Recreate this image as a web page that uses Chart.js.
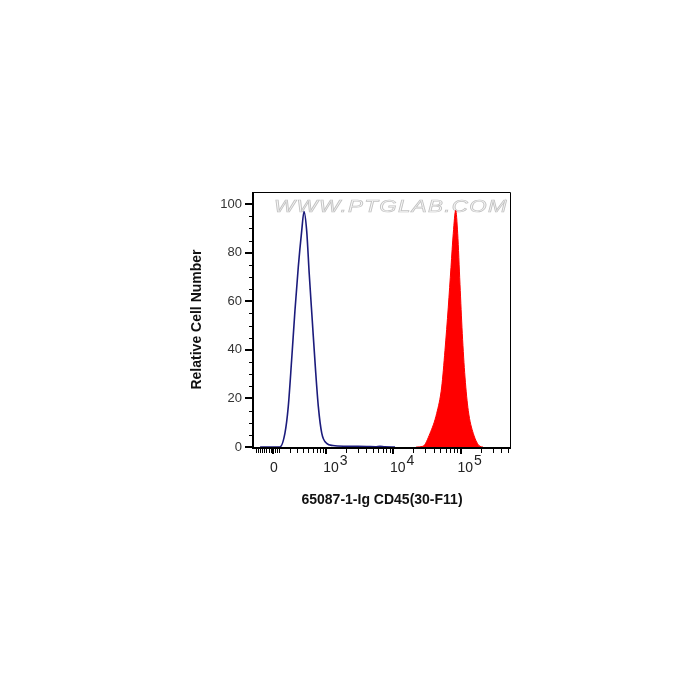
<!DOCTYPE html>
<html>
<head>
<meta charset="utf-8">
<script src="https://cdn.jsdelivr.net/npm/chart.js@4/dist/chart.umd.min.js"></script>
<style>
  html, body { margin: 0; padding: 0; background: #fff; }
</style>
</head>
<body>
<canvas id="chart" width="700" height="700"></canvas>
<script>
// fluorescence intensity (linear units) vs relative cell number
const isotypeX = [-150, 0, 80, 140, 182, 227, 274, 325, 382, 423, 474, 527, 594, 668, 749, 850, 1014, 1267, 2064, 4106, 5500, 6400, 7500, 10690]
const isotypeY = [0, 0, 0, 5.6, 16.5, 35.7, 56, 74, 89, 97, 89, 71, 52, 33, 16.5, 5.6, 1.5, 0.6, 0.3, 0.2, 0.1, 0.3, 0.1, 0]

const cd45X = [22000, 27770, 35270, 44300, 52580, 58800, 65830, 72190, 78060, 84720, 90680, 98130, 106100, 116400, 130200, 154400, 194000, 215000]
const cd45Y = [0, 0.3, 5.6, 13.8, 24.7, 39.8, 57.6, 74, 88, 97.4, 88, 67, 46.8, 28.8, 15, 5.6, 0.3, 0]

const xRange = [-230, 540000]
const xMajorTicks = [0, 1000, 10000, 100000]
const xTickBase = ['0', '10', '10', '10']
const xTickExp = ['', '3', '4', '5']
const yMajorTicks = [0, 20, 40, 60, 80, 100]
const yMax = 105

const X_TITLE = '65087-1-Ig CD45(30-F11)'
const Y_TITLE = 'Relative Cell Number'
const WATERMARK = 'WWW.PTGLAB.COM'

// biexponential-ish display transform (asinh), like the cytometry software axis
const W = 333
function disp (v) {
  return Math.asinh(v / W) / Math.LN10
}

// minor tick values
const xMinorTicks = []
for (let v = -200; v <= 75; v += 25) if (v !== 0) xMinorTicks.push(v)
for (let dec of [100, 1000, 10000]) {
  for (let k = 2; k <= 9; k++) xMinorTicks.push(k * dec)
}
for (let k = 2; k <= 5; k++) xMinorTicks.push(k * 100000)
const yMinorTicks = []
for (let v = 5; v < yMax; v += 5) if (v % 20 !== 0) yMinorTicks.push(v)

function toPoints (xs, ys) {
  return xs.map((x, i) => ({ x: disp(x), y: ys[i] }))
}

const FONT = 'Arial, "Liberation Sans", sans-serif'

const frame = {
  id: 'frame',
  beforeDatasetsDraw (chart) {
    const ctx = chart.ctx
    const a = chart.chartArea
    ctx.save()
    ctx.font = 'italic 17px ' + FONT
    if ('letterSpacing' in ctx) ctx.letterSpacing = '1px'
    ctx.textAlign = 'left'
    ctx.textBaseline = 'alphabetic'
    const w = ctx.measureText(WATERMARK).width
    const target = 234
    const sx = target / w
    ctx.translate(a.right - 2 - target, a.top + 20)
    ctx.scale(sx, 1)
    ctx.fillStyle = '#f8f8f8'
    ctx.strokeStyle = '#c2c2c2'
    ctx.lineWidth = 0.7
    ctx.fillText(WATERMARK, 0, 0)
    ctx.strokeText(WATERMARK, 0, 0)
    if ('letterSpacing' in ctx) ctx.letterSpacing = '0px'
    ctx.restore()
  },
  afterDraw (chart) {
    const ctx = chart.ctx
    const a = chart.chartArea
    const xs = chart.scales.x
    const ys = chart.scales.y
    ctx.save()
    if ('letterSpacing' in ctx) ctx.letterSpacing = '0px'
    ctx.strokeStyle = '#000'
    // thin top and right edges
    ctx.lineWidth = 1
    ctx.beginPath()
    ctx.moveTo(a.left, a.top + 0.5)
    ctx.lineTo(a.right + 0.5, a.top + 0.5)
    ctx.lineTo(a.right + 0.5, a.bottom)
    ctx.stroke()
    // heavier axis lines
    ctx.lineWidth = 2
    ctx.beginPath()
    ctx.moveTo(a.left - 1, a.top)
    ctx.lineTo(a.left - 1, a.bottom + 2)
    ctx.moveTo(a.left - 2, a.bottom + 1)
    ctx.lineTo(a.right + 1, a.bottom + 1)
    ctx.stroke()

    // major ticks
    ctx.lineWidth = 2
    ctx.beginPath()
    xMajorTicks.forEach(v => {
      const px = Math.round(xs.getPixelForValue(disp(v)))
      ctx.moveTo(px, a.bottom + 1)
      ctx.lineTo(px, a.bottom + 7)
    })
    yMajorTicks.forEach(v => {
      const py = Math.round(ys.getPixelForValue(v))
      ctx.moveTo(a.left - 9, py)
      ctx.lineTo(a.left - 1, py)
    })
    ctx.stroke()

    // minor ticks
    ctx.lineWidth = 1
    ctx.beginPath()
    xMinorTicks.forEach(v => {
      const px = Math.round(xs.getPixelForValue(disp(v))) + 0.5
      ctx.moveTo(px, a.bottom + 1)
      ctx.lineTo(px, a.bottom + 6)
    })
    yMinorTicks.forEach(v => {
      const py = Math.round(ys.getPixelForValue(v)) + 0.5
      ctx.moveTo(a.left - 5, py)
      ctx.lineTo(a.left - 1, py)
    })
    ctx.stroke()

    // x tick labels with superscript exponents
    ctx.fillStyle = '#222'
    ctx.font = '14px ' + FONT
    ctx.textBaseline = 'alphabetic'
    xMajorTicks.forEach((v, i) => {
      const px = xs.getPixelForValue(disp(v))
      const base = a.bottom + 25
      if (!xTickExp[i]) {
        ctx.textAlign = 'center'
        ctx.fillText(xTickBase[i], px + 1, base)
      } else {
        ctx.textAlign = 'left'
        const bx = px - 3
        ctx.fillText(xTickBase[i], bx, base)
        const w = ctx.measureText(xTickBase[i]).width
        ctx.fillText(xTickExp[i], bx + w + 1, base - 7)
      }
    })
    ctx.restore()
  }
}

new Chart(document.getElementById('chart'), {
  type: 'line',
  data: {
    datasets: [{
      label: 'CD45',
      data: toPoints(cd45X, cd45Y),
      borderColor: '#ff0000',
      backgroundColor: '#ff0000',
      borderWidth: 1,
      fill: 'origin',
      pointRadius: 0,
      cubicInterpolationMode: 'monotone'
    }, {
      label: 'Isotype',
      data: toPoints(isotypeX, isotypeY),
      borderColor: '#1b1b7c',
      borderWidth: 1.6,
      fill: false,
      pointRadius: 0,
      cubicInterpolationMode: 'monotone'
    }]
  },
  options: {
    responsive: false,
    animation: false,
    events: [],
    layout: { padding: { left: 189, right: 190, top: 192, bottom: 191 } },
    plugins: {
      legend: { display: false },
      tooltip: { enabled: false }
    },
    scales: {
      x: {
        type: 'linear',
        min: disp(xRange[0]),
        max: disp(xRange[1]),
        afterBuildTicks: scale => { scale.ticks = xMajorTicks.map(v => ({ value: disp(v) })) },
        afterFit: scale => { scale.height = 62 },
        ticks: { display: false },
        grid: { display: false },
        border: { display: false },
        title: {
          display: true,
          text: X_TITLE,
          color: '#111',
          padding: 0,
          font: { family: FONT, size: 14, weight: 'bold' }
        }
      },
      y: {
        min: 0,
        max: yMax,
        afterBuildTicks: scale => { scale.ticks = yMajorTicks.map(v => ({ value: v })) },
        afterFit: scale => { scale.width = 65 },
        ticks: {
          color: '#333',
          padding: 4,
          font: { family: FONT, size: 13 }
        },
        grid: { display: false },
        border: { display: false },
        title: {
          display: true,
          text: Y_TITLE,
          color: '#111',
          padding: 0,
          font: { family: FONT, size: 14, weight: 'bold' }
        }
      }
    }
  },
  plugins: [frame]
})
</script>
</body>
</html>
